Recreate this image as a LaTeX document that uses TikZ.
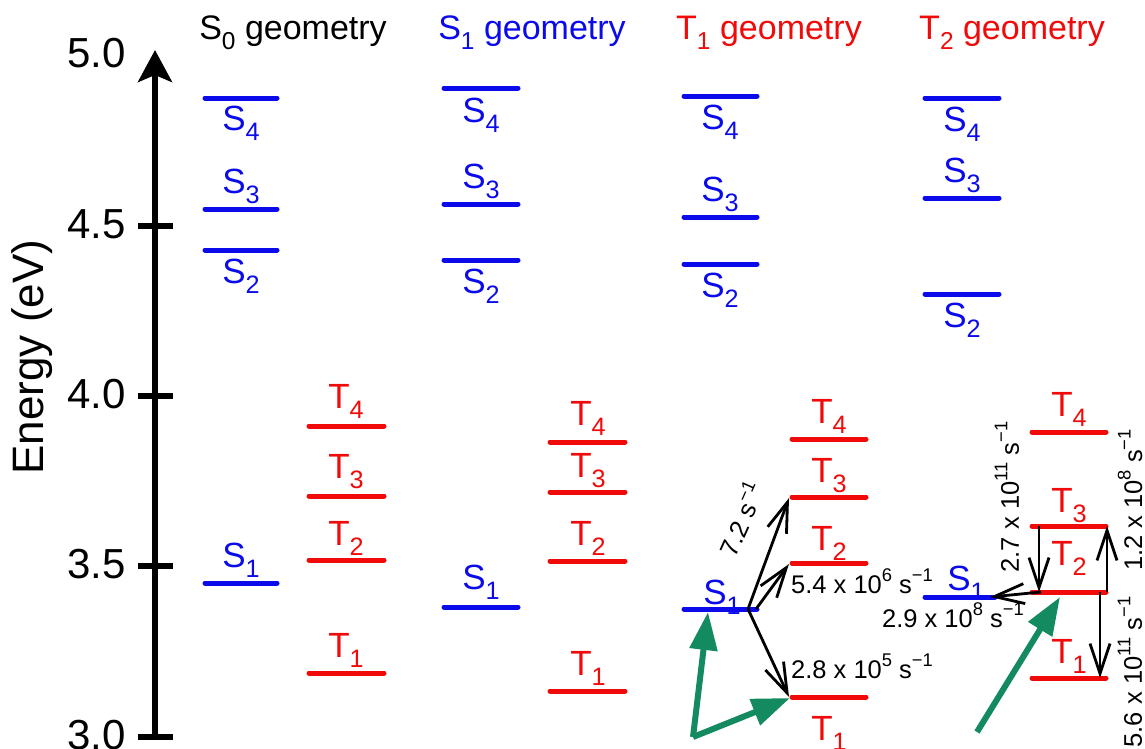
\documentclass[tikz,border=0pt]{standalone}
\usepackage{fontspec}
\setmainfont{Liberation Sans}
\usepackage{graphicx}
\usetikzlibrary{arrows.meta}
\definecolor{eblue}{RGB}{10,10,235}
\definecolor{ered}{RGB}{240,10,10}
\definecolor{egreen}{RGB}{20,138,96}
\newcommand\sbs[1]{\raisebox{-0.3em}{\scalebox{0.72}{#1}}}
\newcommand\sps[1]{\raisebox{0.45em}{\scalebox{0.72}{#1}}}
\newcommand\lev[5]{\coordinate (#1l) at (#2,#4); \coordinate (#1r) at (#3,#4); \draw[#5] (#1l) -- (#1r);}
\begin{document}
\begin{tikzpicture}[x=1pt,y=-1pt,
  slev/.style={line width=5pt, draw=eblue, line cap=round},
  tlev/.style={line width=5pt, draw=ered, line cap=round},
  slab/.style={text=eblue, font=\fontsize{35}{38}\selectfont, anchor=base, inner sep=0pt},
  tlab/.style={text=ered, font=\fontsize{35}{38}\selectfont, anchor=base, inner sep=0pt},
  ttl/.style={font=\fontsize{34}{38}\selectfont, anchor=base, inner sep=0pt},
  ticklab/.style={font=\fontsize{42}{46}\selectfont, anchor=base east, inner sep=0pt},
  axisline/.style={line width=5.5pt},
  rate/.style={line width=2.8pt, -{Straight Barb[length=30pt,width=20pt,line width=2.8pt]}},
  ratelab/.style={font=\fontsize{25.5}{28}\selectfont, inner sep=0pt},
  exc/.style={draw=egreen, line width=6pt, -{Triangle[length=38pt,width=27pt]}}
]
\useasboundingbox (0,0) rectangle (1145,748);

% axis
\coordinate (ax0) at (155,739);
\coordinate (ax1) at (155,50);
\draw[axisline, -{Stealth[length=32pt,width=34pt,inset=7pt]}] (ax0) -- (ax1);
\foreach \yy/\lab [count=\i] in {55/5.0, 226/4.5, 396/4.0, 566/3.5, 737/3.0}{
  \coordinate (tka\i) at (138,\yy);
  \coordinate (tkb\i) at (173,\yy);
  \ifnum\i>1 \draw[axisline] (tka\i) -- (tkb\i); \fi
  \node[ticklab] (tl\i) at (126,\yy+12) {\lab};
}
\node[font=\fontsize{44}{48}\selectfont, rotate=90, inner sep=0pt] (elab) at (32,357) {Energy (eV)};

% titles
\node[ttl] (ti1) at (293,39) {S\sbs{0} geometry};
\node[ttl, text=eblue] (ti2) at (532,39) {S\sbs{1} geometry};
\node[ttl, text=ered] (ti3) at (769,39) {T\sbs{1} geometry};
\node[ttl, text=ered] (ti4) at (1012,39) {T\sbs{2} geometry};

% column 1 (S0 geometry)
\lev{c1S4}{205}{277}{98}{slev}  \node[slab] (l1S4) at (241,130) {S\sbs{4}};
\lev{c1S3}{205}{277}{209}{slev} \node[slab] (l1S3) at (241,193) {S\sbs{3}};
\lev{c1S2}{205}{277}{250}{slev} \node[slab] (l1S2) at (241,283) {S\sbs{2}};
\lev{c1S1}{205}{277}{583}{slev} \node[slab] (l1S1) at (241,567) {S\sbs{1}};
\lev{c1T4}{309}{384}{426}{tlev} \node[tlab] (l1T4) at (346,408) {T\sbs{4}};
\lev{c1T3}{309}{384}{496}{tlev} \node[tlab] (l1T3) at (346,478) {T\sbs{3}};
\lev{c1T2}{309}{384}{560}{tlev} \node[tlab] (l1T2) at (346,545) {T\sbs{2}};
\lev{c1T1}{309}{384}{673}{tlev} \node[tlab] (l1T1) at (346,657) {T\sbs{1}};

% column 2 (S1 geometry)
\lev{c2S4}{444}{518}{88}{slev}  \node[slab] (l2S4) at (481,122) {S\sbs{4}};
\lev{c2S3}{444}{518}{204}{slev} \node[slab] (l2S3) at (481,188) {S\sbs{3}};
\lev{c2S2}{444}{518}{260}{slev} \node[slab] (l2S2) at (481,293) {S\sbs{2}};
\lev{c2S1}{444}{518}{607}{slev} \node[slab] (l2S1) at (481,589) {S\sbs{1}};
\lev{c2T4}{550}{625}{442}{tlev} \node[tlab] (l2T4) at (588,425) {T\sbs{4}};
\lev{c2T3}{550}{625}{492}{tlev} \node[tlab] (l2T3) at (588,477) {T\sbs{3}};
\lev{c2T2}{550}{625}{561}{tlev} \node[tlab] (l2T2) at (588,545) {T\sbs{2}};
\lev{c2T1}{550}{625}{691}{tlev} \node[tlab] (l2T1) at (588,675) {T\sbs{1}};

% column 3 (T1 geometry)
\lev{c3S4}{684}{757}{96}{slev}  \node[slab] (l3S4) at (720,129) {S\sbs{4}};
\lev{c3S3}{684}{757}{217}{slev} \node[slab] (l3S3) at (720,201) {S\sbs{3}};
\lev{c3S2}{684}{757}{264}{slev} \node[slab] (l3S2) at (720,297) {S\sbs{2}};
\lev{c3S1}{684}{757}{609}{slev} \node[slab] (l3S1) at (722,604) {S\sbs{1}};
\lev{c3T4}{792}{866}{439}{tlev} \node[tlab] (l3T4) at (829,423) {T\sbs{4}};
\lev{c3T3}{792}{866}{497}{tlev} \node[tlab] (l3T3) at (829,482) {T\sbs{3}};
\lev{c3T2}{792}{866}{563}{tlev} \node[tlab] (l3T2) at (829,550) {T\sbs{2}};
\lev{c3T1}{792}{866}{697}{tlev} \node[tlab] (l3T1) at (829,740) {T\sbs{1}};

% column 4 (T2 geometry)
\lev{c4S4}{925}{999}{98}{slev}  \node[slab] (l4S4) at (962,131) {S\sbs{4}};
\lev{c4S3}{925}{999}{198}{slev} \node[slab] (l4S3) at (962,182) {S\sbs{3}};
\lev{c4S2}{925}{999}{294}{slev} \node[slab] (l4S2) at (962,327) {S\sbs{2}};
\lev{c4S1}{925}{995}{597}{slev} \node[slab] (l4S1) at (966,590) {S\sbs{1}};
\lev{c4T4}{1032}{1106}{432}{tlev} \node[tlab] (l4T4) at (1069,416) {T\sbs{4}};
\lev{c4T3}{1032}{1106}{526}{tlev} \node[tlab] (l4T3) at (1069,512) {T\sbs{3}};
\lev{c4T2}{1032}{1106}{592}{tlev} \node[tlab] (l4T2) at (1069,565) {T\sbs{2}};
\lev{c4T1}{1032}{1106}{678}{tlev} \node[tlab] (l4T1) at (1069,663) {T\sbs{1}};

% rates, T1 geometry
\coordinate (c3o) at (748,609);
\coordinate (c3o2) at (756,609);
\coordinate (c3t3) at (789,498);
\coordinate (c3t2) at (789,564);
\coordinate (c3t1) at (789,697);
\draw[rate] (c3o) -- (c3t3);
\draw[rate] (c3o2) -- (c3t2);
\draw[rate] (c3o) -- (c3t1);
\node[ratelab, rotate=66] (r1) at (740,519) {7.2 s\sps{−1}};
\node[ratelab, anchor=base west] (r2) at (791,593) {5.4 x 10\sps{6} s\sps{−1}};
\node[ratelab, anchor=base west] (r3) at (791,678) {2.8 x 10\sps{5} s\sps{−1}};

% rates, T2 geometry
\coordinate (c4a3) at (1039,526);
\coordinate (c4a2) at (1039,592);
\coordinate (c4b2) at (1107,592);
\coordinate (c4b3) at (1107,526);
\coordinate (c4c2) at (1100,592);
\coordinate (c4c1) at (1100,678);
\coordinate (c4d2) at (1041,592);
\coordinate (c4s1) at (990,597);
\draw[rate] (c4a3) -- (c4a2);
\draw[rate] (c4b2) -- (c4b3);
\draw[rate] (c4c2) -- (c4c1);
\draw[rate] (c4d2) -- (c4s1);
\node[ratelab, rotate=90] (r5) at (1007,497) {2.7 x 10\sps{11} s\sps{−1}};
\node[ratelab, rotate=90] (r6) at (1130,500) {1.2 x 10\sps{8} s\sps{−1}};
\node[ratelab, rotate=90] (r7) at (1130,672) {5.6 x 10\sps{11} s\sps{−1}};
\node[ratelab, anchor=base east] (r4) at (1024,627) {2.9 x 10\sps{8} s\sps{−1}};

% excitation arrows
\coordinate (g1) at (693,737);
\coordinate (g1a) at (708,612);
\coordinate (g1b) at (790,698);
\draw[exc] (g1) -- (g1a);
\draw[exc] (g1) -- (g1b);
\coordinate (g2) at (977,732);
\coordinate (g2a) at (1060,597);
\draw[exc] (g2) -- (g2a);
\end{tikzpicture}
\end{document}
